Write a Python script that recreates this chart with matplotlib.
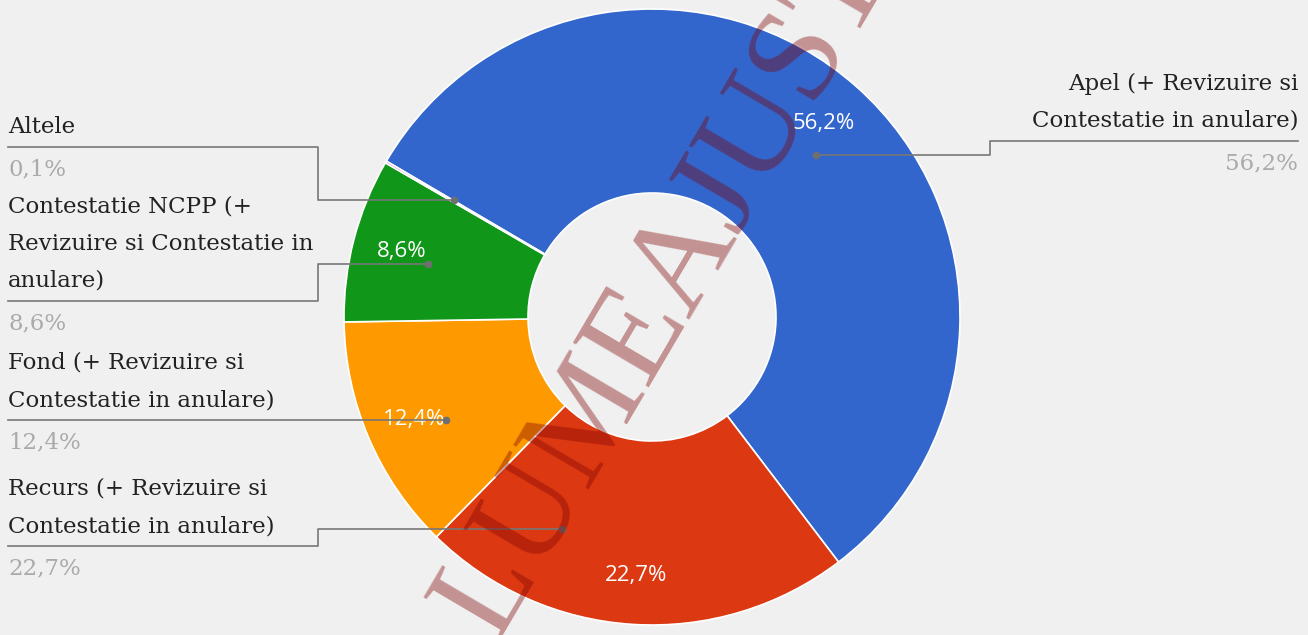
import matplotlib.pyplot as plt
import numpy as np

W, H = 1308, 635

categories = [
    "Apel (+ Revizuire si\nContestatie in anulare)",
    "Recurs (+ Revizuire si\nContestatie in anulare)",
    "Fond (+ Revizuire si\nContestatie in anulare)",
    "Contestatie NCPP (+\nRevizuire si Contestatie in\nanulare)",
    "Altele",
]
shares = [56.2, 22.7, 12.4, 8.6, 0.1]
colors = ["#3366cc", "#dc3912", "#ff9900", "#109618", "#990099"]
watermark = "LUMEAJUSTITIEI.RO"

# layout (image pixel coords, y from top)
cx, cy = 652, 317
r_out, r_in = 308, 124
start = 149.6
label_side = ["right", "left", "left", "left", "left"]
label_line_y = [141, 546, 420, 301, 147]
elbow_x = [990, 318, 318, 318, 318]
angle_shift = [-3.8, -19.5, 3.3, 1.3, -0.5]
line_step = 37.5

def Y(y):
    return H - y

def pct(v):
    return f"{v:.1f}%".replace(".", ",")

fig = plt.figure(figsize=(W / 100, H / 100), dpi=100)
fig.patch.set_facecolor("#f0f0f0")
ax = fig.add_axes([0, 0, 1, 1])
ax.set_facecolor("#f0f0f0")

wedges, texts, autotexts = ax.pie(
    shares, colors=colors, startangle=start, counterclock=False,
    radius=r_out, center=(cx, Y(cy)),
    autopct=lambda p: pct(p) if p > 1 else "", pctdistance=0.84,
    wedgeprops=dict(width=r_out - r_in, edgecolor="white", linewidth=1.2),
    textprops=dict(color="white", fontsize=16, family="Open Sans"),
)
ax.set_xlim(0, W)
ax.set_ylim(0, H)
ax.set_aspect("equal")
ax.axis("off")

serif = "DejaVu Serif"
ends = start - np.cumsum(shares) * 3.6
mids = ends + np.array(shares) * 1.8
for i, name in enumerate(categories):
    a = np.radians(mids[i] + angle_shift[i])
    px, py = cx + 230 * np.cos(a), cy - 230 * np.sin(a)
    ly = label_line_y[i]
    if label_side[i] == "left":
        x_end, ha = 8, "left"
    else:
        x_end, ha = W - 10, "right"
    xs = [px, elbow_x[i], elbow_x[i], x_end]
    ys = [py, py, ly, ly]
    if abs(py - ly) < 2:
        xs, ys = [px, x_end], [ly, ly]
    ax.plot(xs, [Y(v) for v in ys], color="#777777", lw=1.2, zorder=5)
    ax.plot(px, Y(py), "o", color="#6f6f6f", ms=4.5, zorder=6)
    lines = name.split("\n")
    n = len(lines)
    for j, t in enumerate(lines):
        ty = ly - 20 - (n - 1 - j) * line_step
        ax.text(x_end, Y(ty), t, ha=ha, va="center", fontsize=16.5,
                family=serif, color="#222222")
    ax.text(x_end, Y(ly + 22), pct(shares[i]), ha=ha, va="center",
            fontsize=16.5, family=serif, color="#aaaaaa")

ax.text(495, Y(642), watermark, rotation=59.5, rotation_mode="anchor",
        ha="left", va="baseline", fontsize=96, family="Liberation Serif",
        color="#7d0000", alpha=0.39, zorder=20)

fig.savefig("out.png", dpi=100, facecolor=fig.get_facecolor())
